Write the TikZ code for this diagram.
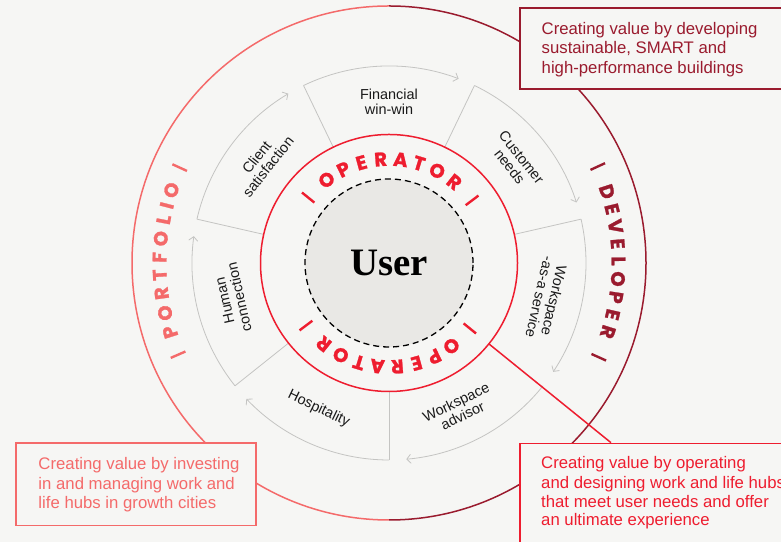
\documentclass[tikz,border=0pt]{standalone}
\usepackage{fontspec}
\setmainfont{Liberation Sans}
\newfontfamily\userfont{Liberation Serif}
\newfontfamily\ringfont{Poppins}[UprightFont={* Bold}, FakeBold=1.3]
\usetikzlibrary{arrows.meta,calc}
\definecolor{bg}{HTML}{F6F6F4}
\definecolor{userfill}{HTML}{E9E8E5}
\definecolor{salmon}{HTML}{F46A6A}
\definecolor{darkred}{HTML}{9A1B2E}
\definecolor{brightred}{HTML}{EE1D2F}
\definecolor{segline}{HTML}{C4C4C2}
\definecolor{ink}{HTML}{1A1A1A}
\begin{document}
\begin{tikzpicture}[x=1bp,y=1bp,
  seglbl/.style={font=\fontsize{14.5}{15}\selectfont, align=center, text=ink, inner sep=0},
  ringletter/.style={font=\ringfont\fontsize{19.5}{20}\selectfont, inner sep=0},
  boxtext/.style={font=\fontsize{16.8}{19.5}\selectfont, anchor=base west, inner sep=0},
  infobox/.style={draw, fill=bg, line width=1.5bp, anchor=north west, inner sep=0},
  segedge/.style={draw=segline, line width=0.8bp},
  segarrow/.style={draw=segline, line width=0.8bp, -{Straight Barb[length=4bp,width=9bp]}},
  ringbar/.style={line width=2.4bp},
]
\useasboundingbox (0,0) rectangle (781,542);
\fill[bg] (0,0) rectangle (781,542);
\clip (0,0) rectangle (781,542);
\coordinate (C) at (389,279);

% outer ring
\draw[salmon, line width=1.5bp] ([shift={(90:257)}]C) arc[start angle=90, end angle=270, radius=257];
\draw[darkred, line width=1.5bp] ([shift={(-90:257)}]C) arc[start angle=-90, end angle=90, radius=257];

% segment edges
\foreach \a [count=\i] in {115.71,64.29,12.86,-90,218.57,167.14} {
  \coordinate (ei\i) at ([shift={(\a:128.5)}]C);
  \coordinate (eo\i) at ([shift={(\a:197)}]C);
  \draw[segedge] (ei\i) -- (eo\i);
}
% segment arrows
\foreach \a [count=\i] in {115.71,64.29,12.86,-38.57,-90,218.57,167.14} {
  \pgfmathsetmacro\e{\a-46.4}
  \coordinate (as\i) at ([shift={(\a:197)}]C);
  \draw[segarrow] (as\i) arc[start angle=\a, end angle=\e, radius=197];
}

% operator ring and user
\node[circle, draw=brightred, line width=1.5bp, minimum size=257bp, inner sep=0] (opring) at (C) {};
\coordinate (opA) at ([shift={(-39:128.5)}]C);
\coordinate (opB) at (611,99.3);
\draw[brightred, line width=1.5bp] (opA) -- (opB);
\node[circle, draw=black, dash pattern=on 6bp off 4bp, line width=1.3bp, fill=userfill,
      minimum size=168bp, inner sep=0, font=\userfont\bfseries\fontsize{39}{39}\selectfont] (user) at (C) {User};

% operator letters
\foreach \a/\ch [count=\k] in {126.9/O,115.9/P,105.4/E,94.6/R,83.6/A,73.2/T,62.4/O,51.1/R} {
  \pgfmathsetmacro\b{\a-180}
  \node[ringletter, text=brightred, rotate=\a-90] (opt\k) at ([shift={(\a:104)}]C) {\ch};
  \node[ringletter, text=brightred, rotate=\b-90] (opb\k) at ([shift={(\b:104)}]C) {\ch};
}
\foreach \a in {141,37,-39,-143} {
  \draw[brightred, ringbar] ([shift={(\a:96)}]C) -- ([shift={(\a:112)}]C);
}

% portfolio
\foreach \a/\ch [count=\k] in {197.5/P,192.6/O,187.6/R,183.0/T,178.6/F,173.9/O,169.1/L,165.5/I,161.5/O} {
  \node[ringletter, text=salmon, rotate=\a-90] (pf\k) at ([shift={(\a:229.5)}]C) {\ch};
}
\foreach \a in {203.5,155.5} {
  \draw[salmon, ringbar] ([shift={(\a:222)}]C) -- ([shift={(\a:238)}]C);
}
% developer
\foreach \a/\ch [count=\k] in {18.1/D,13.6/E,9.2/V,4.8/E,0.5/L,-4.0/O,-8.6/P,-13.0/E,-17.5/R} {
  \node[ringletter, text=darkred, rotate=\a-90] (dv\k) at ([shift={(\a:229.5)}]C) {\ch};
}
\foreach \a in {24.8,-24.2} {
  \draw[darkred, ringbar] ([shift={(\a:222)}]C) -- ([shift={(\a:238)}]C);
}

% segment labels
\node[seglbl, rotate=0] (fin) at ([shift={(90:161)}]C) {Financial\\win-win};
\node[seglbl, rotate=-51.43] (cust) at ([shift={(38.57:162)}]C) {Customer\\needs};
\node[seglbl, rotate=-102.86] (waas) at ([shift={(-12.86:162)}]C) {Workspace\\-as-a service};
\node[seglbl, rotate=25.71] (wadv) at ([shift={(-64.29:162)}]C) {Workspace\\advisor};
\node[seglbl, rotate=-25.71] (hosp) at ([shift={(244.29:162)}]C) {Hospitality};
\node[seglbl, rotate=102.86] (human) at ([shift={(192.86:161)}]C) {Human\\connection};
\node[seglbl, rotate=51.43] (client) at ([shift={(141.43:162)}]C) {Client\\satisfaction};

% boxes
\node[infobox, draw=darkred, minimum width=300bp, minimum height=81bp] (devbox) at (519,534.7) {};
\node[boxtext, text=darkred] (dev1) at (541.5,507.7) {Creating value by developing};
\node[boxtext, text=darkred] (dev2) at (541.5,488) {sustainable, SMART and};
\node[boxtext, text=darkred] (dev3) at (541.5,468.5) {high-performance buildings};

\node[infobox, draw=salmon, minimum width=240bp, minimum height=82.7bp] (pfbox) at (15,99.7) {};
\node[boxtext, text=salmon] (pf1t) at (38.3,72.7) {Creating value by investing};
\node[boxtext, text=salmon] (pf2t) at (38.3,52.7) {in and managing work and};
\node[boxtext, text=salmon] (pf3t) at (38.3,33.7) {life hubs in growth cities};

\node[infobox, draw=brightred, minimum width=300bp, minimum height=130bp] (opbox) at (519.3,99.3) {};
\node[boxtext, text=brightred] (op1t) at (541,73) {Creating value by operating};
\node[boxtext, text=brightred] (op2t) at (541,53.7) {and designing work and life hubs};
\node[boxtext, text=brightred] (op3t) at (541,34.7) {that meet user needs and offer};
\node[boxtext, text=brightred] (op4t) at (541,16) {an ultimate experience};
\end{tikzpicture}
\end{document}
